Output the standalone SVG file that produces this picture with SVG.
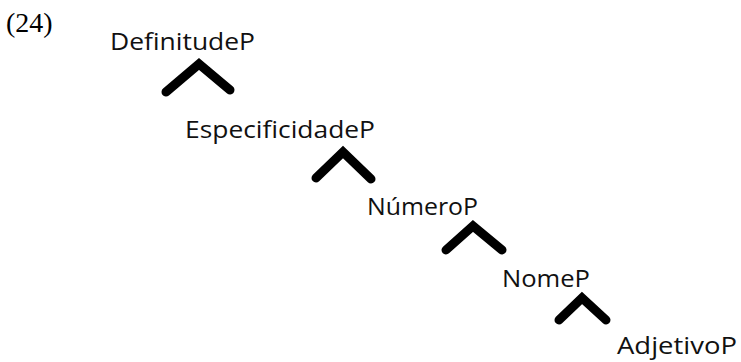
<svg xmlns="http://www.w3.org/2000/svg" width="741" height="362" viewBox="0 0 741 362">
<style>
.lbl{font-family:"Open Sans","Noto Sans",sans-serif;font-size:23px;fill:#111}
.num{font-family:"Liberation Serif",serif;font-size:28px;fill:#000}
.br{fill:none;stroke:#000;stroke-width:9;stroke-linecap:round;stroke-linejoin:miter}
</style>
<rect width="741" height="362" fill="#fff"/>
<text class="num" x="6" y="32">(24)</text>
<g id="n1"><text class="lbl" x="110" y="50" textLength="145" lengthAdjust="spacingAndGlyphs">DefinitudeP</text></g>
<g id="n2"><text class="lbl" x="185" y="138" textLength="190" lengthAdjust="spacingAndGlyphs">EspecificidadeP</text></g>
<g id="n3"><text class="lbl" x="367" y="215" textLength="111" lengthAdjust="spacingAndGlyphs">NúmeroP</text></g>
<g id="n4"><text class="lbl" x="502" y="287" textLength="88" lengthAdjust="spacingAndGlyphs">NomeP</text></g>
<g id="n5"><text class="lbl" x="617" y="354" textLength="120" lengthAdjust="spacingAndGlyphs">AdjetivoP</text></g>
<g id="connectors">
<path class="br" d="M166,92 L199,64 L230,90"/>
<path class="br" d="M316,178 L343,152 L371,179"/>
<path class="br" d="M446,250 L473,226 L502,250"/>
<path class="br" d="M559,320 L582,298 L606,320"/>
</g>
</svg>
